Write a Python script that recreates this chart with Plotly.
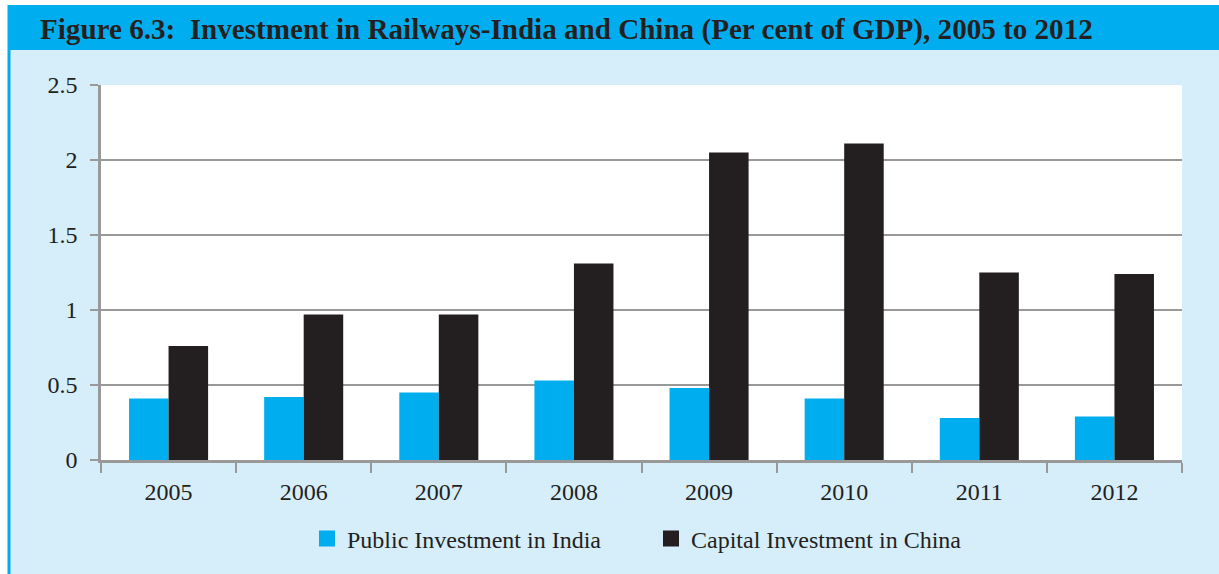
import plotly.graph_objects as go

years = ["2005", "2006", "2007", "2008", "2009", "2010", "2011", "2012"]
india_public = [0.41, 0.42, 0.45, 0.53, 0.48, 0.41, 0.28, 0.29]
china_capital = [0.76, 0.97, 0.97, 1.31, 2.05, 2.11, 1.25, 1.24]
y_ticks = [0, 0.5, 1, 1.5, 2, 2.5]
y_tick_labels = ["0", "0.5", "1", "1.5", "2", "2.5"]
series_names = ["Public Investment in India", "Capital Investment in China"]

W, H = 1219, 574
L, R, T, B = 101, 1182, 85, 460  # plot area in pixels

CYAN = "#00AEEF"
PANEL = "#D6EDFA"
DARK = "#231F20"
GRID = "#999999"
FONT = "Liberation Serif"


def px_x(x):
    return (x - L) / (R - L)


def px_y(y):
    return (B - y) / (B - T)


fig = go.Figure()
fig.add_trace(go.Bar(x=years, y=india_public, name=series_names[0], showlegend=False,
                     marker=dict(color=CYAN, line=dict(width=0))))
fig.add_trace(go.Bar(x=years, y=china_capital, name=series_names[1], showlegend=False,
                     marker=dict(color=DARK, line=dict(width=0))))

# legend entries with larger square swatches
for name, color in zip(series_names, [CYAN, DARK]):
    fig.add_trace(go.Scatter(x=[None], y=[None], mode="markers", name=name,
                             marker=dict(symbol="square", size=16, color=color, line=dict(width=0))))

shapes = [
    # white page strip on the left and top
    dict(type="rect", xref="paper", yref="paper", x0=px_x(0), x1=px_x(8), y0=px_y(H), y1=px_y(0),
         fillcolor="white", line=dict(width=0), layer="below"),
    dict(type="rect", xref="paper", yref="paper", x0=px_x(0), x1=px_x(W), y0=px_y(5), y1=px_y(0),
         fillcolor="white", line=dict(width=0), layer="below"),
    # title band
    dict(type="rect", xref="paper", yref="paper", x0=px_x(7.5), x1=px_x(W), y0=px_y(50), y1=px_y(5),
         fillcolor=CYAN, line=dict(width=0), layer="below"),
    # cyan border down the left side
    dict(type="rect", xref="paper", yref="paper", x0=px_x(7.5), x1=px_x(10.5), y0=px_y(H), y1=px_y(50),
         fillcolor=CYAN, line=dict(width=0), layer="below"),
]

fig.update_layout(
    width=W, height=H,
    margin=dict(l=L, r=W - R, t=T, b=H - B, pad=0),
    paper_bgcolor=PANEL,
    plot_bgcolor="white",
    barmode="group",
    bargap=0.415,
    bargroupgap=0,
    font=dict(family=FONT, color=DARK, size=24),
    shapes=shapes,
    showlegend=True,
    legend=dict(orientation="h", x=px_x(651), xanchor="center", y=px_y(539), yanchor="middle",
                font=dict(family=FONT, size=24, color=DARK), bgcolor="rgba(0,0,0,0)",
                itemwidth=30, tracegroupgap=0, entrywidth=299, itemsizing="trace"),
    annotations=[
        dict(text="<b>Figure 6.3:  Investment in Railways-India and China (Per cent of GDP), 2005 to 2012</b>",
             xref="paper", yref="paper", x=px_x(38), y=px_y(29.5), xanchor="left", yanchor="middle",
             showarrow=False, font=dict(family=FONT, size=29.1, color=DARK)),
    ],
    xaxis=dict(
        type="category", tickson="boundaries", ticks="outside", ticklen=10, tickwidth=2,
        tickcolor=GRID, showline=True, linecolor=GRID, linewidth=2.5, showgrid=False,
        tickfont=dict(family=FONT, size=24, color=DARK), ticklabelstandoff=8,
    ),
    yaxis=dict(
        range=[0, 2.5], tickvals=y_ticks, ticktext=y_tick_labels, ticks="outside", ticklen=8,
        tickwidth=2, tickcolor=GRID, showline=True, linecolor=GRID, linewidth=2.5,
        showgrid=True, gridcolor=GRID, gridwidth=2, zeroline=False,
        tickfont=dict(family=FONT, size=24, color=DARK), ticklabelstandoff=8,
    ),
)

fig.write_html("out.html")
